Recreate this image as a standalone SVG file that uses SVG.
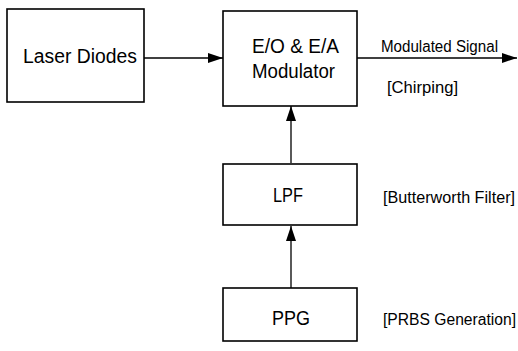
<svg xmlns="http://www.w3.org/2000/svg" width="518" height="351" viewBox="0 0 518 351">
<defs>
<marker id="ah" viewBox="0 0 10 10" refX="10" refY="5" markerWidth="15" markerHeight="10" markerUnits="userSpaceOnUse" orient="auto" preserveAspectRatio="none"><path d="M0,0 L10,5 L0,10 Z" fill="#000"/></marker>
</defs>
<style>
.box{fill:#fff;stroke:#000;stroke-width:1.6}
.t{font-family:"Liberation Sans",Arial,sans-serif;font-size:20px;fill:#000}
.l{font-family:"Liberation Sans",Arial,sans-serif;font-size:16px;fill:#000}
.c{stroke:#000;stroke-width:1.3;fill:none}
</style>
<rect width="518" height="351" fill="#fff"/>
<g id="connectors">
<line class="c" x1="144" y1="58" x2="223" y2="58" marker-end="url(#ah)"/>
<line class="c" x1="357" y1="58" x2="517" y2="58" marker-end="url(#ah)"/>
<line class="c" x1="291" y1="163" x2="291" y2="106" marker-end="url(#ah)"/>
<line class="c" x1="291" y1="288" x2="291" y2="226" marker-end="url(#ah)"/>
</g>
<g id="laser">
<rect class="box" x="7" y="9" width="137" height="93"/>
<text class="t" x="23" y="63" textLength="114" lengthAdjust="spacingAndGlyphs">Laser Diodes</text>
</g>
<g id="modulator">
<rect class="box" x="223" y="11" width="134" height="95"/>
<text class="t" x="252" y="53" textLength="87" lengthAdjust="spacingAndGlyphs">E/O &amp; E/A</text>
<text class="t" x="252" y="78" textLength="83" lengthAdjust="spacingAndGlyphs">Modulator</text>
</g>
<g id="lpf">
<rect class="box" x="223" y="164" width="134" height="61"/>
<text class="t" x="273" y="202" textLength="30" lengthAdjust="spacingAndGlyphs">LPF</text>
</g>
<g id="ppg">
<rect class="box" x="223" y="288" width="134" height="53"/>
<text class="t" x="272" y="325" textLength="38" lengthAdjust="spacingAndGlyphs">PPG</text>
</g>
<g id="labels">
<text class="l" x="381" y="52" textLength="117" lengthAdjust="spacingAndGlyphs">Modulated Signal</text>
<text class="l" x="387" y="93" textLength="71" lengthAdjust="spacingAndGlyphs">[Chirping]</text>
<text class="l" x="383" y="203" textLength="132" lengthAdjust="spacingAndGlyphs">[Butterworth Filter]</text>
<text class="l" x="383" y="325" textLength="133" lengthAdjust="spacingAndGlyphs">[PRBS Generation]</text>
</g>
</svg>
